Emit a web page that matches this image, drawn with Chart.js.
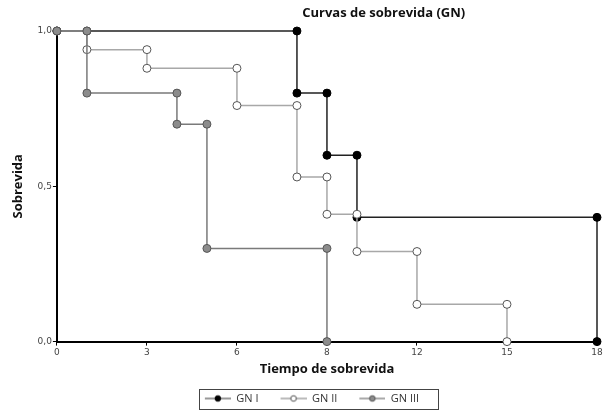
<!DOCTYPE html>
<html>
<head>
<meta charset="utf-8">
<script src="https://cdn.jsdelivr.net/npm/chart.js@4/dist/chart.umd.min.js"></script>
<style>
  html, body { margin: 0; padding: 0; background: #fff; }
  #wrap { width: 612px; height: 411px; }
</style>
</head>
<body>
<div id="wrap"><canvas id="survChart" width="612" height="411"></canvas></div>
<script>
// Kaplan-Meier steps: time of each event and survival after it
const gn1Times = [0, 8, 9, 10, 18];
const gn1Surv = [1.0, 0.8, 0.6, 0.4, 0.0];
const gn2Times = [0, 1, 3, 6, 8, 9, 10, 12, 15];
const gn2Surv = [1.0, 0.94, 0.88, 0.76, 0.53, 0.41, 0.29, 0.12, 0.0];
const gn3Times = [0, 1, 4, 5, 9];
const gn3Surv = [1.0, 0.8, 0.7, 0.3, 0.0];

const seriesNames = ['GN I', 'GN II', 'GN III'];
const xTickLabels = ['0', '3', '6', '8', '12', '15', '18'];
const yTickLabels = ['0,0', '0,5', '1,0'];

// turn the event lists into corner points of the step curve
function stepPoints(times, surv) {
    const pts = [{ x: times[0], y: surv[0] }];
    for (let i = 1; i < times.length; i++) {
        pts.push({ x: times[i], y: surv[i - 1] });
        pts.push({ x: times[i], y: surv[i] });
    }
    return pts;
}

const styles = [
    { line: '#222222', fill: '#000000', border: '#000000', key: '#333' },
    { line: '#a8a8a8', fill: '#ffffff', border: '#555555', key: '#777' },
    { line: '#7a7a7a', fill: '#8c8c8c', border: '#555555', key: '#555' }
];

const ICON_GAP = 17;   // empty space left of each legend key
const ICON_LINE = 26;

// small line + dot picture for the legend
function legendIcon(s) {
    const c = document.createElement('canvas');
    c.width = ICON_GAP + ICON_LINE; c.height = 10;
    const g = c.getContext('2d');
    g.strokeStyle = s.key;
    g.lineWidth = 1;
    g.beginPath(); g.moveTo(ICON_GAP, 5); g.lineTo(ICON_GAP + ICON_LINE, 5); g.stroke();
    g.beginPath(); g.arc(ICON_GAP + ICON_LINE / 2, 5, 2.8, 0, Math.PI * 2);
    g.fillStyle = s.fill; g.fill();
    g.strokeStyle = s.border; g.stroke();
    return c;
}

const allData = [stepPoints(gn1Times, gn1Surv), stepPoints(gn2Times, gn2Surv), stepPoints(gn3Times, gn3Surv)];

const datasets = seriesNames.map((name, i) => ({
    label: name,
    data: allData[i],
    borderColor: styles[i].line,
    borderWidth: 1.5,
    pointRadius: 4,
    pointHoverRadius: 4,
    pointBackgroundColor: styles[i].fill,
    pointBorderColor: styles[i].border,
    pointBorderWidth: 1,
    pointStyle: 'circle',
    legendIcon: legendIcon(styles[i]),
    fill: false,
    tension: 0,
    clip: false,
    order: 3 - i
}));

const titlePlugin = {
    id: 'offsetTitle',
    afterDraw(chart) {
        const ctx = chart.ctx;
        ctx.save();
        ctx.font = 'bold 13px "Open Sans", sans-serif';
        ctx.fillStyle = '#111';
        ctx.textAlign = 'center';
        ctx.textBaseline = 'middle';
        ctx.fillText('Curvas de sobrevida (GN)', chart.width * 0.627, 13);
        // frame round the legend items
        const boxes = chart.legend.legendHitBoxes;
        if (boxes && boxes.length) {
            const first = boxes[0], last = boxes[boxes.length - 1];
            const l = first.left + ICON_GAP - 6;
            const r = last.left + last.width + 19;
            const cy = first.top + first.height / 2;
            ctx.strokeStyle = '#444';
            ctx.lineWidth = 1;
            ctx.strokeRect(Math.round(l) + 0.5, Math.round(cy - 10) + 0.5, Math.round(r - l), 20);
        }
        ctx.restore();
    }
};

const ctx = document.getElementById('survChart').getContext('2d');
const survChart = new Chart(ctx, {
    type: 'line',
    data: { datasets: datasets },
    options: {
        responsive: false,
        animation: false,
        layout: { padding: { top: 31, right: 15, left: 10, bottom: -3 } },
        plugins: {
            tooltip: { enabled: false },
            legend: {
                position: 'bottom',
                labels: {
                    usePointStyle: true,
                    pointStyleWidth: ICON_GAP + ICON_LINE,
                    padding: 5,
                    color: '#333',
                    font: { family: '"Open Sans", sans-serif', size: 11 },
                    sort: (a, b) => a.datasetIndex - b.datasetIndex,
                    generateLabels: function (chart) {
                        const items = Chart.defaults.plugins.legend.labels.generateLabels(chart);
                        items.forEach(it => { it.pointStyle = chart.data.datasets[it.datasetIndex].legendIcon; });
                        return items;
                    }
                }
            }
        },
        scales: {
            x: {
                type: 'linear',
                min: 0,
                max: 18,
                border: { display: true, color: '#000', width: 2 },
                grid: { drawOnChartArea: false, drawTicks: true, tickLength: 4, color: '#000' },
                ticks: {
                    stepSize: 3,
                    padding: 2,
                    color: '#444',
                    font: { family: '"DejaVu Sans", sans-serif', size: 9 },
                    callback: (value) => xTickLabels[value / 3]
                },
                title: {
                    display: true,
                    text: 'Tiempo de sobrevida',
                    color: '#111',
                    font: { family: '"Open Sans", sans-serif', size: 13, weight: 'bold' },
                    padding: { top: 1, bottom: 11 }
                }
            },
            y: {
                min: 0,
                max: 1,
                border: { display: true, color: '#000', width: 2 },
                grid: { drawOnChartArea: false, drawTicks: true, tickLength: 4, color: '#000' },
                ticks: {
                    stepSize: 0.5,
                    padding: 1,
                    color: '#444',
                    font: { family: '"DejaVu Sans", sans-serif', size: 9 },
                    callback: (value) => yTickLabels[Math.round(value * 2)]
                },
                title: {
                    display: true,
                    text: 'Sobrevida',
                    color: '#111',
                    font: { family: '"Open Sans", sans-serif', size: 13, weight: 'bold' },
                    padding: { top: 0, bottom: 11 }
                }
            }
        }
    },
    plugins: [titlePlugin]
});
</script>
</body>
</html>
